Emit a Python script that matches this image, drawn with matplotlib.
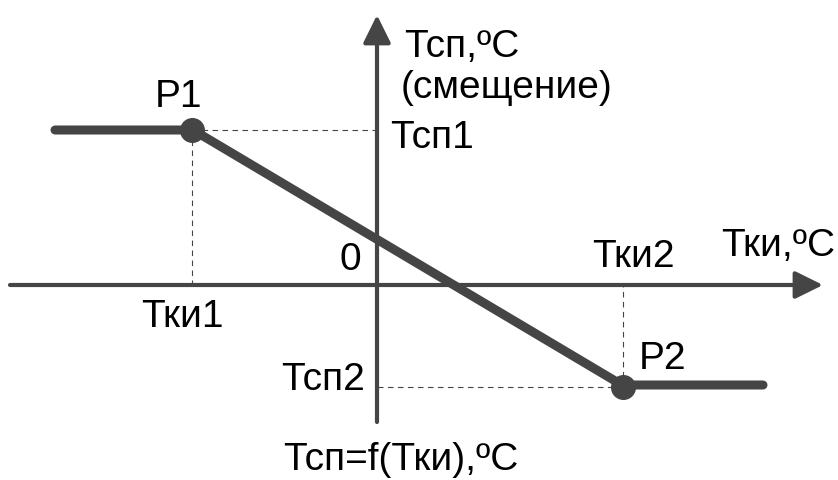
import matplotlib.pyplot as plt

plt.rcParams['font.family'] = ['Liberation Sans', 'DejaVu Sans']

# schematic characteristic: Tsp = f(Tki), arbitrary units
tki = [-322, -184, 245, 386]
tsp = [155, 155, -100, -100]
knee_x = [-185, 246]
knee_y = [155, -102]

axis_x = [-367, 446]
axis_y = [-137, 270]

col = '#454545'

fig = plt.figure(figsize=(8.38, 4.80), dpi=100)
ax = fig.add_axes([0, 0, 1, 1])
ax.set_xlim(-377, 461)
ax.set_ylim(-195, 285)
ax.axis('off')

# axes with arrows
head = dict(arrowstyle='-|>,head_length=0.85,head_width=0.42',
            mutation_scale=20, color=col, lw=3, shrinkA=0, shrinkB=0)
ax.annotate('', xy=(axis_x[1], 0), xytext=(axis_x[0], 0), arrowprops=head)
ax.annotate('', xy=(0, axis_y[1]), xytext=(0, axis_y[0]), arrowprops=head)

# dashed guides
for x, y in zip(knee_x, knee_y):
    ax.plot([x, 0], [y, y], ls=(0, (5, 4)), color=col, lw=0.8)
    ax.plot([x, x], [y, 0], ls=(0, (5, 4)), color=col, lw=0.8)

ax.plot(tki, tsp, color=col, lw=6.5, solid_capstyle='round', zorder=3)
ax.plot(knee_x, knee_y, 'o', color=col, ms=17, zorder=4)

fs = 28
ax.text(-198, 188, 'P1', fontsize=fs, ha='center', va='center')
ax.text(286, -74, 'P2', fontsize=fs, ha='center', va='center')
ax.text(13, 147, 'Тсп1', fontsize=fs, ha='left', va='center')
ax.text(-12, -95, 'Тсп2', fontsize=fs, ha='right', va='center')
ax.text(-195, -32, 'Тки1', fontsize=fs, ha='center', va='center')
ax.text(256, 28, 'Тки2', fontsize=fs, ha='center', va='center')
ax.text(-27, 25, '0', fontsize=fs, ha='center', va='center')
ax.text(458, 39, 'Тки,ºC', fontsize=fs, ha='right', va='center')
ax.text(27, 238, 'Тсп,ºC', fontsize=fs, ha='left', va='center')
ax.text(24, 197, '(смещение)', fontsize=fs, ha='left', va='center')
ax.text(24, -175, 'Тсп=f(Тки),ºC', fontsize=fs, ha='center', va='center')

fig.savefig('out.png', dpi=100)
